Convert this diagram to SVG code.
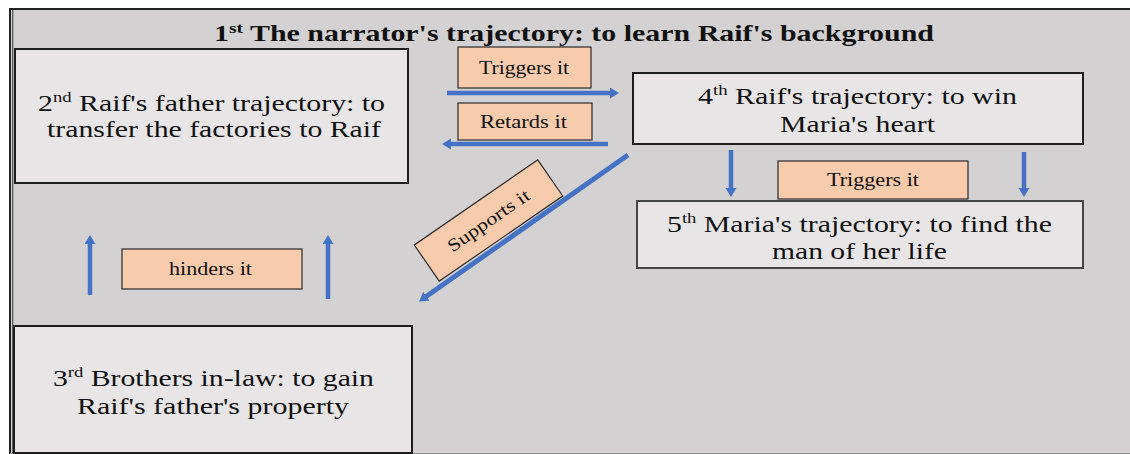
<svg xmlns="http://www.w3.org/2000/svg" width="1130" height="454" viewBox="0 0 1130 454">
  <style>
    .node { fill: #e7e5e6; stroke: #1e1e1e; stroke-width: 2; }
    .tag { fill: #f8cbad; stroke: #2a2a2a; stroke-width: 1.2; }
    .txt { font-family: "Liberation Serif", "Times New Roman", serif; font-size: 24px; fill: #111; text-anchor: middle; }
    .lbl { font-family: "Liberation Serif", "Times New Roman", serif; font-size: 18px; fill: #111; text-anchor: middle; }
    .title { font-family: "Liberation Serif", "Times New Roman", serif; font-size: 23px; font-weight: bold; fill: #111; text-anchor: middle; }
    .sup { font-size: 15px; }
    .conn { stroke: #4472c4; stroke-width: 4.5; fill: none; marker-end: url(#head); }
  </style>
  <defs>
    <marker id="head" markerUnits="userSpaceOnUse" markerWidth="11" markerHeight="12" refX="3" refY="5.5" orient="auto">
      <path d="M0,0 L9,5.5 L0,11 Z" fill="#4472c4"/>
    </marker>
  </defs>

  <!-- page and frame -->
  <rect x="0" y="0" width="1130" height="454" fill="#ffffff"/>
  <rect x="10" y="9" width="1122" height="446" fill="#d3d1d2"/>
  <line x1="10" y1="9" x2="1130" y2="9" stroke="#222" stroke-width="2"/>
  <line x1="10" y1="8" x2="10" y2="454" stroke="#222" stroke-width="2"/>
  <line x1="12.8" y1="10" x2="12.8" y2="454" stroke="#333" stroke-width="1"/>
  <line x1="10" y1="453.5" x2="1130" y2="453.5" stroke="#8a8a8a" stroke-width="1"/>

  <text class="title" x="574" y="41" textLength="720" lengthAdjust="spacingAndGlyphs">1<tspan class="sup" dy="-8">st</tspan><tspan dy="8"> The narrator's trajectory: to learn Raif's background</tspan></text>

  <g id="node-2">
    <rect class="node" x="15" y="49" width="393" height="134"/>
    <text class="txt" x="211.5" y="111" textLength="347" lengthAdjust="spacingAndGlyphs">2<tspan class="sup" dy="-9">nd</tspan><tspan dy="9"> Raif's father trajectory: to</tspan></text>
    <text class="txt" x="214" y="137" textLength="334" lengthAdjust="spacingAndGlyphs">transfer the factories to Raif</text>
  </g>

  <g id="node-3">
    <rect class="node" x="14" y="326" width="398" height="127"/>
    <text class="txt" x="213.5" y="386" textLength="321" lengthAdjust="spacingAndGlyphs">3<tspan class="sup" dy="-9">rd</tspan><tspan dy="9"> Brothers in-law: to gain</tspan></text>
    <text class="txt" x="213" y="414" textLength="272" lengthAdjust="spacingAndGlyphs">Raif's father's property</text>
  </g>

  <g id="node-4">
    <rect class="node" x="633" y="73" width="450" height="71"/>
    <text class="txt" x="857.5" y="104" textLength="319" lengthAdjust="spacingAndGlyphs">4<tspan class="sup" dy="-9">th</tspan><tspan dy="9"> Raif's trajectory: to win</tspan></text>
    <text class="txt" x="857.5" y="132" textLength="155" lengthAdjust="spacingAndGlyphs">Maria's heart</text>
  </g>

  <g id="node-5">
    <rect class="node" x="637" y="201" width="446" height="67" style="stroke:#454545"/>
    <text class="txt" x="859.5" y="232" textLength="385" lengthAdjust="spacingAndGlyphs">5<tspan class="sup" dy="-9">th</tspan><tspan dy="9"> Maria's trajectory: to find the</tspan></text>
    <text class="txt" x="859.5" y="259" textLength="175" lengthAdjust="spacingAndGlyphs">man of her life</text>
  </g>

  <g id="connectors">
    <line class="conn" x1="447" y1="93" x2="613" y2="93"/>
    <line class="conn" x1="608" y1="144" x2="448" y2="144"/>
    <line class="conn" x1="628" y1="155" x2="424" y2="298" style="stroke-width:5"/>
    <line class="conn" x1="731" y1="150" x2="731" y2="191"/>
    <line class="conn" x1="1024" y1="152" x2="1024" y2="191"/>
    <line class="conn" x1="90" y1="295" x2="90" y2="241"/>
    <line class="conn" x1="328" y1="299" x2="328" y2="241"/>
  </g>

  <g id="label-triggers-1">
    <rect class="tag" x="458" y="47" width="133" height="41"/>
    <text class="lbl" x="524" y="74" textLength="90" lengthAdjust="spacingAndGlyphs">Triggers it</text>
  </g>
  <g id="label-retards">
    <rect class="tag" x="458" y="103" width="134" height="37"/>
    <text class="lbl" x="523.5" y="128" textLength="87" lengthAdjust="spacingAndGlyphs">Retards it</text>
  </g>
  <g id="label-supports" transform="translate(488.5 220.5) rotate(-34.6)">
    <rect class="tag" x="-75" y="-22" width="150" height="44"/>
    <text class="lbl" x="0" y="6" textLength="96" lengthAdjust="spacingAndGlyphs">Supports it</text>
  </g>
  <g id="label-triggers-2">
    <rect class="tag" x="778" y="161" width="190" height="38"/>
    <text class="lbl" x="873" y="186" textLength="92" lengthAdjust="spacingAndGlyphs">Triggers it</text>
  </g>
  <g id="label-hinders">
    <rect class="tag" x="122" y="249" width="180" height="40"/>
    <text class="lbl" x="210.5" y="275" textLength="83" lengthAdjust="spacingAndGlyphs">hinders it</text>
  </g>
</svg>
